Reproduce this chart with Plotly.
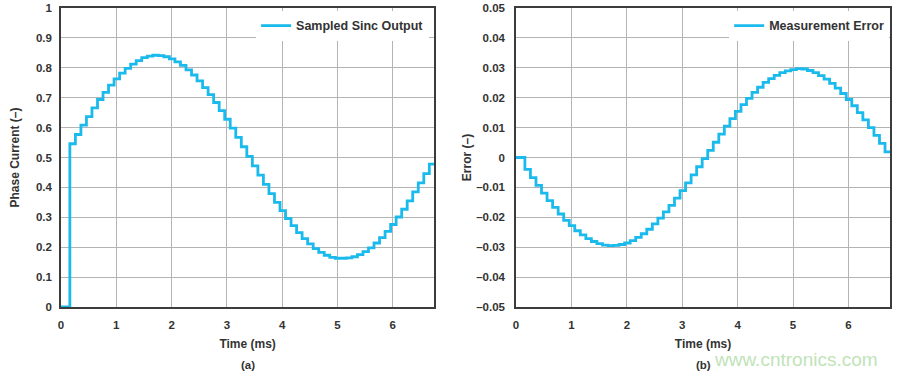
import plotly.graph_objects as go

# ---- data ----
step_times = [0.00, 0.16, 0.26, 0.36, 0.46, 0.56, 0.66, 0.76, 0.86, 0.96,
              1.06, 1.16, 1.26, 1.36, 1.46, 1.56, 1.66, 1.76, 1.86, 1.96,
              2.06, 2.16, 2.26, 2.36, 2.46, 2.56, 2.66, 2.76, 2.86, 2.96,
              3.06, 3.16, 3.26, 3.36, 3.46, 3.56, 3.66, 3.76, 3.86, 3.96,
              4.06, 4.16, 4.26, 4.36, 4.46, 4.56, 4.66, 4.76, 4.86, 4.96,
              5.06, 5.16, 5.26, 5.36, 5.46, 5.56, 5.66, 5.76, 5.86, 5.96,
              6.06, 6.16, 6.26, 6.36, 6.46, 6.56, 6.66, 6.76]

sinc_output = [0.000,
               0.546, 0.577, 0.608, 0.637, 0.666, 0.694, 0.718, 0.742, 0.763, 0.782,
               0.798, 0.812, 0.824, 0.834, 0.839, 0.842, 0.841, 0.837, 0.830, 0.820,
               0.808, 0.793, 0.776, 0.756, 0.734, 0.710, 0.684, 0.657, 0.628, 0.598,
               0.567, 0.536, 0.504, 0.472, 0.441, 0.410, 0.379, 0.350, 0.322, 0.296,
               0.272, 0.249, 0.229, 0.211, 0.195, 0.183, 0.173, 0.166, 0.163, 0.163,
               0.164, 0.168, 0.175, 0.185, 0.198, 0.214, 0.232, 0.253, 0.276, 0.301,
               0.327, 0.355, 0.385, 0.415, 0.446, 0.478,
               0.478]

meas_error = [0.0,
              -0.0040, -0.0067, -0.0093, -0.0119, -0.0144, -0.0167, -0.0189, -0.0210, -0.0228, -0.0245,
              -0.0259, -0.0271, -0.0281, -0.0288, -0.0293, -0.0295, -0.0294, -0.0291, -0.0286, -0.0278,
              -0.0267, -0.0255, -0.0240, -0.0222, -0.0203, -0.0182, -0.0160, -0.0136, -0.0111, -0.0085,
              -0.0058, -0.0031, -0.0004, 0.0024, 0.0051, 0.0078, 0.0105, 0.0130, 0.0154, 0.0177,
              0.0198, 0.0218, 0.0235, 0.0251, 0.0264, 0.0275, 0.0284, 0.0290, 0.0294, 0.0297,
              0.0296, 0.0291, 0.0284, 0.0274, 0.0262, 0.0248, 0.0232, 0.0214, 0.0194, 0.0173,
              0.0150, 0.0126, 0.0100, 0.0074, 0.0047, 0.0019,
              0.0019]

x_ticks = [0, 1, 2, 3, 4, 5, 6]
x_ticktext = ["0", "1", "2", "3", "4", "5", "6"]
y1_ticks = [0, 0.1, 0.2, 0.3, 0.4, 0.5, 0.6, 0.7, 0.8, 0.9, 1]
y1_ticktext = ["0", "0.1", "0.2", "0.3", "0.4", "0.5", "0.6", "0.7", "0.8", "0.9", "1"]
y2_ticks = [-0.05, -0.04, -0.03, -0.02, -0.01, 0, 0.01, 0.02, 0.03, 0.04, 0.05]
y2_ticktext = ["\u20130.05", "\u20130.04", "\u20130.03", "\u20130.02", "\u20130.01", "0",
               "0.01", "0.02", "0.03", "0.04", "0.05"]

# ---- styling ----
LINE = "#1BBAEC"
TXT = "#333333"
GRID = "#b4b4b4"
FRAME = "#3c3c3c"
FONT = "Liberation Sans, Arial, sans-serif"

fig = go.Figure()
fig.add_trace(go.Scatter(x=step_times, y=sinc_output, mode="lines", line_shape="hv",
                         line=dict(color=LINE, width=2.8), name="Sampled Sinc Output",
                         xaxis="x", yaxis="y", legend="legend"))
fig.add_trace(go.Scatter(x=step_times, y=meas_error, mode="lines", line_shape="hv",
                         line=dict(color=LINE, width=2.8), name="Measurement Error",
                         xaxis="x2", yaxis="y2", legend="legend2"))

axis_common = dict(showgrid=True, gridcolor=GRID, gridwidth=1, zeroline=False,
                   showline=True, linecolor=FRAME, linewidth=1.5, mirror=True,
                   ticks="", automargin=False,
                   tickfont=dict(family=FONT, size=11.5, color=TXT, weight="bold"))
title_font = dict(family=FONT, size=12, color=TXT, weight="bold")
legend_font = dict(family=FONT, size=12.5, color=TXT, weight="bold")

fig.update_layout(
    width=900, height=376,
    margin=dict(l=61, r=10, t=8, b=69, autoexpand=False),
    paper_bgcolor="white", plot_bgcolor="white",
    showlegend=True,
    xaxis=dict(domain=[0, 0.4503], range=[0, 6.75], tickvals=x_ticks, ticktext=x_ticktext,
               anchor="y", ticklabelstandoff=6,
               title=dict(text="Time (ms)", font=title_font, standoff=10), **axis_common),
    yaxis=dict(range=[0, 1], tickvals=y1_ticks, ticktext=y1_ticktext, anchor="x",
               ticklabelstandoff=5,
               title=dict(text="Phase Current (\u2013)", font=title_font, standoff=14), **axis_common),
    xaxis2=dict(domain=[0.5489, 1.0], range=[0, 6.75], tickvals=x_ticks, ticktext=x_ticktext,
                anchor="y2", ticklabelstandoff=6,
                title=dict(text="Time (ms)", font=title_font, standoff=10), **axis_common),
    yaxis2=dict(range=[-0.05, 0.05], tickvals=y2_ticks, ticktext=y2_ticktext, anchor="x2",
                ticklabelstandoff=7,
                title=dict(text="Error (\u2013)", font=title_font, standoff=2), **axis_common),
    legend=dict(x=0.444, y=0.99, xanchor="right", yanchor="top", bgcolor="white",
                font=legend_font, itemwidth=30),
    legend2=dict(x=0.999, y=0.99, xanchor="right", yanchor="top", bgcolor="white",
                 font=legend_font, itemwidth=30),
    annotations=[
        dict(text="(a)", x=0.2251, y=-0.195, xref="paper", yref="paper", showarrow=False,
             xanchor="center", yanchor="middle", font=dict(family=FONT, size=11.5, color=TXT, weight="bold")),
        dict(text="(b)", x=0.7745, y=-0.195, xref="paper", yref="paper", showarrow=False,
             xanchor="center", yanchor="middle", font=dict(family=FONT, size=11.5, color=TXT, weight="bold")),
        dict(text="www.cntronics.com", x=0.988, y=-0.177, xref="paper", yref="paper", showarrow=False,
             xanchor="right", yanchor="middle", font=dict(family=FONT, size=19, color="#bfe3b8")),
    ],
)

fig.write_html("out.html", config={"displayModeBar": False},
               post_script="document.body.style.margin='0';")
